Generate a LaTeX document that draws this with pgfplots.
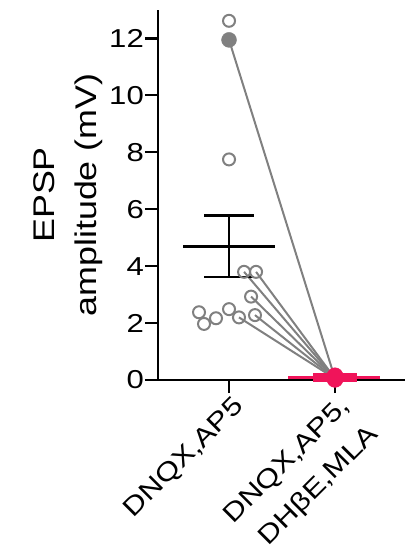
\documentclass[border=0pt]{standalone}
\usepackage{fontspec}
\setmainfont{Liberation Sans}[FakeStretch=1.2]
\usepackage{pgfplots}
\pgfplotsset{compat=1.18}
\definecolor{dgray}{HTML}{808080}
\definecolor{cred}{HTML}{F0145A}
\begin{document}
\begin{tikzpicture}
\begin{axis}[name=ax, scale only axis, width=247bp, height=370bp,
 xmin=0.33, xmax=2.66, ymin=0, ymax=13.0,
 axis x line*=bottom, axis y line*=left,
 axis line style={line width=2.4bp, black},
 xtick={1,2}, xticklabels={{DNQX,AP5},{DNQX,AP5,\\DHβE,MLA}},
 ytick={0,2,...,12},
 tick style={line width=2.2bp, black},
 major tick length=13bp, tick align=outside,
 /pgf/number format/assume math mode=true,
 yticklabel style={font=\fontsize{26}{30}\selectfont, inner sep=1bp},
 xticklabel style={overlay, font=\fontsize{26}{40}\selectfont, xshift=3bp, rotate=45, anchor=north east, align=right, inner sep=1bp},
 ylabel={EPSP\\amplitude (mV)},
 ylabel style={font=\fontsize{30}{42}\selectfont, align=center, at={(axis description cs:-0.364,0.5)}, anchor=center},
 clip=false,
]
% paired lines
\addplot[dgray, line width=2bp] coordinates {(1.255,3.80) (2,0.05)};
\addplot[dgray, line width=2bp] coordinates {(1.142,3.80) (2,0.05)};
\addplot[dgray, line width=2bp] coordinates {(1.208,2.93) (2,0.05)};
\addplot[dgray, line width=2bp] coordinates {(1.094,2.20) (2,0.05)};
\addplot[dgray, line width=2bp] coordinates {(1.245,2.28) (2,0.05)};
\addplot[dgray, line width=2bp] coordinates {(1,11.95) (2,0.05)};
% open circles
\addplot[only marks, mark=o, mark size=6bp, dgray, line width=2bp] coordinates {
(1,12.62) (1,7.75) (1.142,3.80) (1.255,3.80) (1.208,2.93) (0.717,2.38) (0.764,1.97) (0.877,2.17) (1,2.49) (1.094,2.20) (1.245,2.28)};
% filled
\addplot[only marks, mark=*, mark size=7.5bp, dgray, fill=dgray] coordinates {(1,11.95)};
% mean and SEM (black)
\addplot[black, line width=2.6bp] coordinates {(0.566,4.68) (1.434,4.68)};
\addplot[black, line width=2.6bp] coordinates {(1,3.62) (1,5.77)};
\addplot[black, line width=2.6bp] coordinates {(0.764,5.77) (1.236,5.77)};
\addplot[black, line width=2.6bp] coordinates {(0.764,3.62) (1.236,3.62)};
% red condition
\addplot[only marks, mark=*, mark size=8bp, cred] coordinates {(2,0.02) (2,0.05) (2,0.08) (2,0.10) (2,0.12) (2,0.15)};
\addplot[cred, line width=3bp] coordinates {(1.557,0.08) (2.42,0.08)};
\addplot[cred, line width=3.5bp] coordinates {(1.79,0.17) (2.21,0.17)};
\addplot[cred, line width=3.5bp] coordinates {(1.79,-0.02) (2.21,-0.02)};
\addplot[cred, line width=3bp] coordinates {(2,-0.02) (2,0.17)};
\end{axis}
\path (ax.south west) ++(-158bp,-177bp) rectangle ++(416bp,557bp);
\end{tikzpicture}
\end{document}
